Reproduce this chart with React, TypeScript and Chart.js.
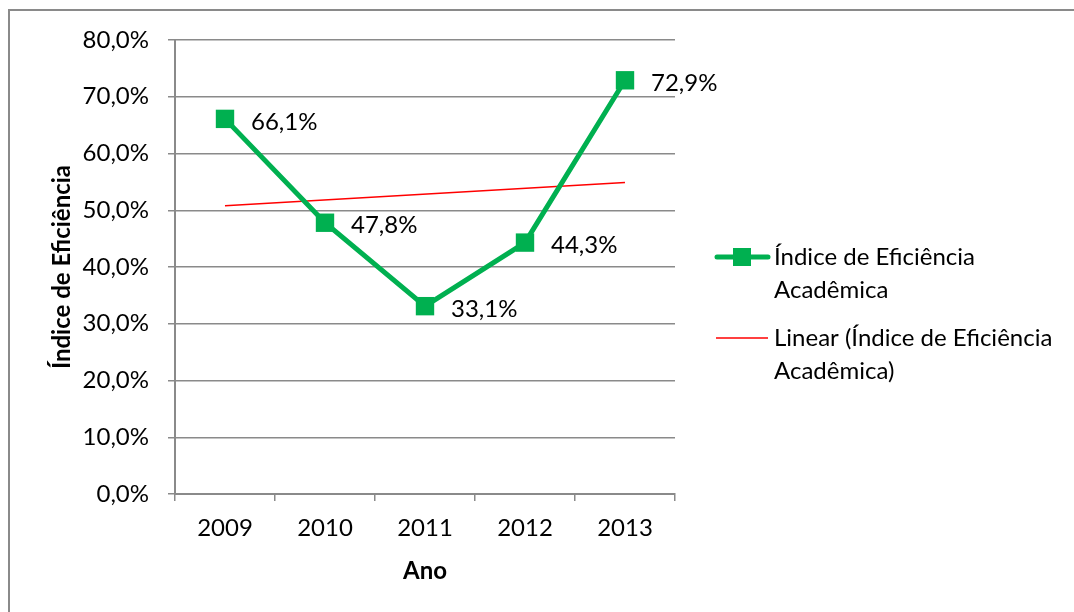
import React, { useEffect, useRef } from "react";
import { Chart, registerables } from "chart.js";

Chart.register(...registerables);

const categories = ["2009", "2010", "2011", "2012", "2013"];
const efficiency = [66.1, 47.8, 33.1, 44.3, 72.9];
const trendValues = [50.8, null, null, null, 54.9];
const seriesName = "Índice de Eficiência Acadêmica";
const trendName = "Linear (Índice de Eficiência Acadêmica)";
const yTitle = "Índice de Eficiência";
const xTitle = "Ano";
const legendLines1 = ["Índice de Eficiência", "Acadêmica"];
const legendLines2 = ["Linear (Índice de Eficiência", "Acadêmica)"];

const FONT = "Lato, 'Open Sans', sans-serif";
const FS = 24;
const GREEN = "#00B050";
const RED = "#FF0000";
const GRAY = "#8A8A8A";

const fmt = (v: number) => v.toFixed(1).replace(".", ",") + "%";

const extrasPlugin = {
  id: "extras",
  afterDraw(chart: any) {
    const ctx = chart.ctx;
    ctx.save();
    // outer frame
    ctx.strokeStyle = GRAY;
    ctx.lineWidth = 2;
    ctx.beginPath();
    ctx.moveTo(9, 612);
    ctx.lineTo(9, 10);
    ctx.lineTo(1074, 10);
    ctx.stroke();

    // data labels
    const meta = chart.getDatasetMeta(0);
    ctx.fillStyle = "#000";
    ctx.font = `${FS}px ${FONT}`;
    ctx.textAlign = "left";
    ctx.textBaseline = "middle";
    meta.data.forEach((pt: any, i: number) => {
      ctx.fillText(fmt(efficiency[i]), pt.x + 26, pt.y + 3);
    });

    // legend
    // entry 1
    ctx.strokeStyle = GREEN;
    ctx.lineWidth = 5;
    ctx.lineCap = "round";
    ctx.beginPath();
    ctx.moveTo(717, 257);
    ctx.lineTo(768, 257);
    ctx.stroke();
    ctx.fillStyle = GREEN;
    ctx.fillRect(733, 248, 18, 18);
    ctx.fillStyle = "#000";
    ctx.fillText(legendLines1[0], 774, 257);
    ctx.fillText(legendLines1[1], 774, 290);
    // entry 2
    ctx.strokeStyle = RED;
    ctx.lineWidth = 1.5;
    ctx.lineCap = "butt";
    ctx.beginPath();
    ctx.moveTo(716, 338);
    ctx.lineTo(768, 338);
    ctx.stroke();
    ctx.fillText(legendLines2[0], 774, 338);
    ctx.fillText(legendLines2[1], 774, 371);
    ctx.restore();
  },
};

export default function App() {
  const ref = useRef<HTMLCanvasElement>(null);
  useEffect(() => {
    const chart = new Chart(ref.current!, {
      type: "line",
      data: {
        labels: categories,
        datasets: [
          {
            label: seriesName,
            data: efficiency,
            borderColor: GREEN,
            backgroundColor: GREEN,
            borderWidth: 5,
            pointStyle: "rect",
            pointRadius: 13,
            pointBorderWidth: 0,
            pointBackgroundColor: GREEN,
            tension: 0,
            order: 1,
          },
          {
            label: trendName,
            data: trendValues,
            borderColor: RED,
            borderWidth: 1.5,
            pointRadius: 0,
            spanGaps: true,
            tension: 0,
            order: 2,
          },
        ],
      },
      plugins: [extrasPlugin],
      options: {
        animation: false,
        responsive: false,
        layout: { padding: { top: 40, right: 399, left: 0, bottom: 0 } },
        plugins: {
          legend: { display: false },
          tooltip: { enabled: false },
        },
        scales: {
          x: {
            offset: true,
            grid: {
              offset: true,
              drawOnChartArea: false,
              drawTicks: true,
              tickLength: 7,
              color: GRAY,
              lineWidth: 1.5,
            },
            border: { color: GRAY, width: 2 },
            ticks: {
              color: "#000",
              font: { family: FONT, size: FS },
              padding: 13,
            },
            title: {
              display: true,
              text: xTitle,
              color: "#000",
              font: { family: FONT, size: FS, weight: "bold" },
              padding: { top: 0, bottom: 26 },
            },
            afterFit: (s: any) => {
              s.height = 118;
            },
          },
          y: {
            min: 0,
            max: 80,
            ticks: {
              stepSize: 10,
              color: "#000",
              font: { family: FONT, size: FS },
              padding: 19,
              callback: (v: any) => fmt(Number(v)),
            },
            grid: {
              color: GRAY,
              lineWidth: 1.5,
              tickLength: 7,
            },
            border: { color: GRAY, width: 2 },
            title: {
              display: true,
              text: yTitle,
              color: "#000",
              font: { family: FONT, size: FS, weight: "bold" },
              padding: { top: 48, bottom: 0 },
            },
            afterFit: (s: any) => {
              s.width = 175;
            },
          },
        },
      },
    } as any);
    return () => chart.destroy();
  }, []);
  return (
    <div style={{ position: "fixed", left: 0, top: 0, width: 1074, height: 612, background: "#fff" }}>
      <canvas ref={ref} width={1074} height={612} style={{ display: "block" }} />
    </div>
  );
}
